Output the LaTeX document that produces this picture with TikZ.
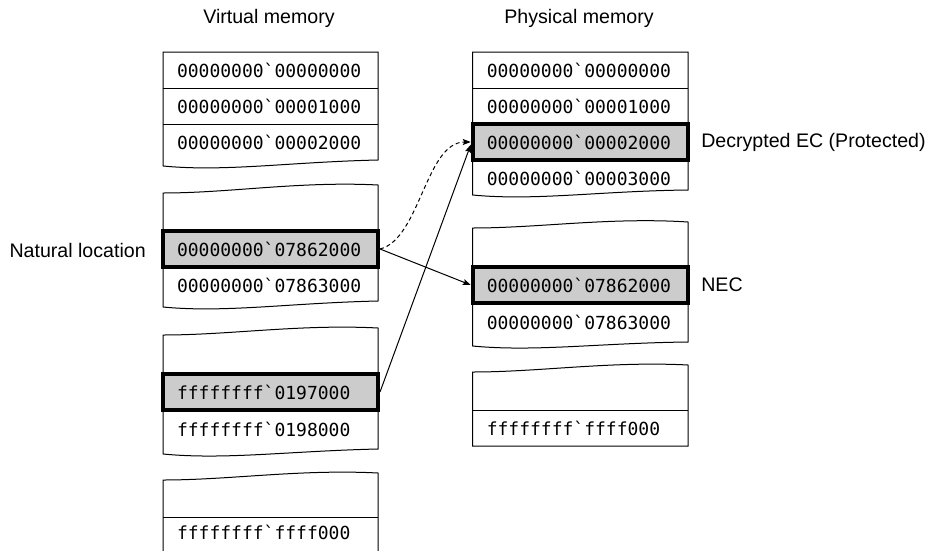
\documentclass[tikz,border=0pt]{standalone}
\usepackage{fontspec}
\setmainfont{Liberation Sans}
\newfontfamily\addrfont{DejaVu Sans Mono}[Ligatures=TeXOff]
\usetikzlibrary{arrows.meta}

\begin{document}
\begin{tikzpicture}[x=0.75pt,y=-0.75pt,
  outline/.style={line width=0.75pt, line join=miter},
  cell/.style={rectangle, minimum width=161.25pt, minimum height=27pt,
    inner xsep=10.5pt, inner ysep=0pt, text width=140.25pt, align=left,
    font=\addrfont\fontsize{13.5}{16}\selectfont},
  hi/.style={cell, draw, line width=3pt, fill=gray!40},
  lbl/.style={inner sep=0pt, font=\fontsize{14.7}{17}\selectfont},
  arr/.style={line width=0.75pt, -{Stealth[length=6pt,width=4.5pt,inset=1.2pt]}},
]
\useasboundingbox (0,0) rectangle (928,550);

% column headings
\node[lbl] (vmt) at (269,18) {Virtual memory};
\node[lbl] (pmt) at (579,18) {Physical memory};

% ---------------- virtual memory ----------------
% block A
\draw[outline] (163,166) -- (163,52) -- (378,52) -- (378,160)
  .. controls (290,162) and (225,172) .. (163,166);
\node[cell] (va0) at (270.5,70)  {00000000`00000000};
\node[cell] (va1) at (270.5,106) {00000000`00001000};
\node[cell] (va2) at (270.5,142) {00000000`00002000};
\draw[outline] (va0.south west) -- (va0.south east);
\draw[outline] (va1.south west) -- (va1.south east);

% block B
\draw[outline] (163,307) -- (163,193)
  .. controls (230,193) and (300,181) .. (378,185) -- (378,301)
  .. controls (290,303) and (225,313) .. (163,307);
\node[hi]   (vnat) at (270.5,249) {00000000`07862000};
\node[cell] (vb1)  at (270.5,285) {00000000`07863000};

% block C
\draw[outline] (163,454) -- (163,335)
  .. controls (230,335) and (300,324) .. (378,328) -- (378,449)
  .. controls (290,451) and (225,460) .. (163,454);
\node[hi]   (vff) at (270.5,392) {ffffffff`0197000};
\node[cell] (vc1) at (270.5,429) {ffffffff`0198000};

% block D (continues past the lower edge)
\draw[outline] (163,551) -- (163,480)
  .. controls (230,480) and (300,469) .. (378,473) -- (378,551);
\draw[outline] (163,517) -- (378,517);
\node[cell] (vd1) at (270.5,532) {ffffffff`ffff000};

% ---------------- physical memory ----------------
% block A
\draw[outline] (472.5,195) -- (472.5,52) -- (688,52) -- (688,190)
  .. controls (600,191) and (535,201) .. (472.5,195);
\node[cell] (pa0)  at (580.25,70)  {00000000`00000000};
\node[cell] (pa1)  at (580.25,106) {00000000`00001000};
\node[hi]   (pdec) at (580.25,142) {00000000`00002000};
\node[cell] (pa3)  at (580.25,178) {00000000`00003000};
\draw[outline] (pa0.south west) -- (pa0.south east);

% block B
\draw[outline] (472.5,346) -- (472.5,228)
  .. controls (540,228) and (610,217) .. (688,222) -- (688,342)
  .. controls (600,343) and (535,352) .. (472.5,346);
\node[hi]   (pnec) at (580.25,285) {00000000`07862000};
\node[cell] (pb1)  at (580.25,322) {00000000`07863000};

% block C
\draw[outline] (472.5,446) -- (472.5,372)
  .. controls (540,372) and (610,361) .. (688,365) -- (688,446) -- cycle;
\draw[outline] (472.5,410) -- (688,410);
\node[cell] (pc1) at (580.25,428) {ffffffff`ffff000};

% side labels
\node[lbl, anchor=east] (natl) at (146,250) {Natural location};
\node[lbl, anchor=west] (decl) at (701,142) {Decrypted EC (Protected)};
\node[lbl, anchor=west] (necl) at (701,285) {NEC};

% mappings
\draw[arr] (vnat.east) -- (pnec.west);
\draw[arr] (vff.east) -- ([yshift=-2pt]pdec.west);
\draw[arr, dash pattern=on 3pt off 2.25pt]
  (vnat.east) .. controls +(40,-10) and +(-45,0) .. (pdec.west);
\end{tikzpicture}
\end{document}
